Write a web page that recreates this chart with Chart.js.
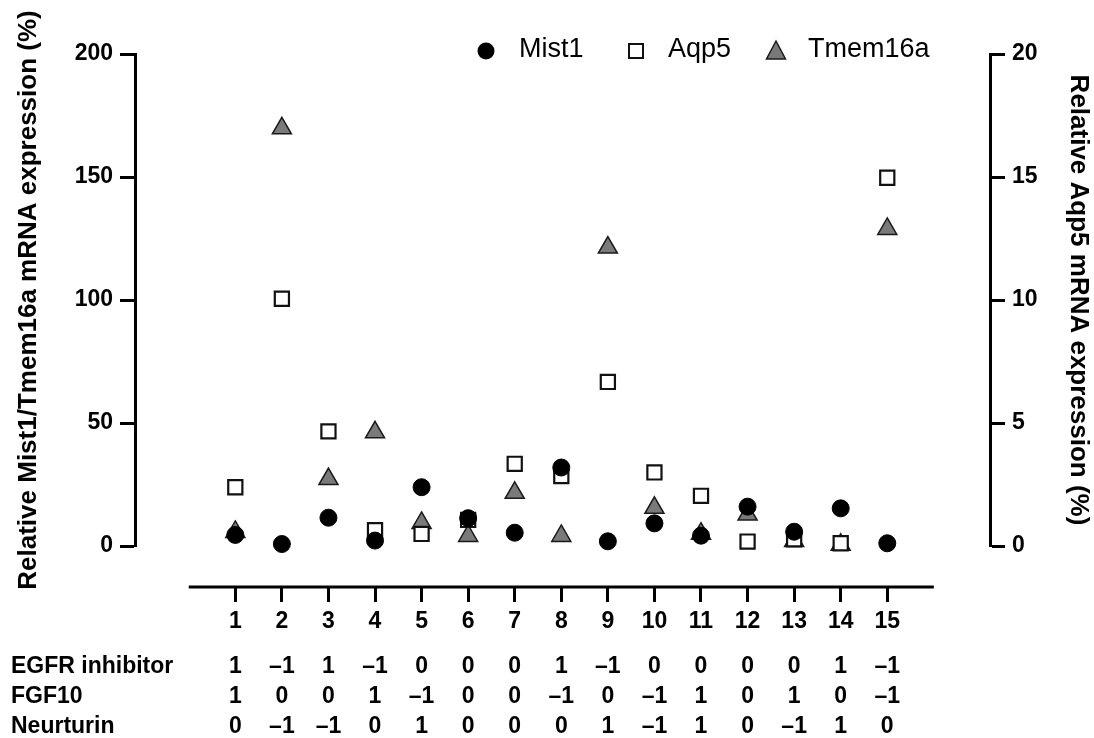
<!DOCTYPE html>
<html>
<head>
<meta charset="utf-8">
<script src="https://cdn.jsdelivr.net/npm/chart.js@4/dist/chart.umd.min.js"></script>
<style>
  html, body { margin: 0; padding: 0; background: #fff; }
  #wrap { width: 1094px; height: 738px; }
</style>
</head>
<body>
<div id="wrap"><canvas id="c" width="1094" height="738"></canvas></div>
<script>
// ---- data ----
const categories = [1, 2, 3, 4, 5, 6, 7, 8, 9, 10, 11, 12, 13, 14, 15];
const mist1   = [4.5, 0.8, 11.5, 2.2, 23.9, 11.3, 5.4, 31.9, 1.9, 9.2, 4.2, 16.0, 5.8, 15.3, 1.1];
const aqp5    = [2.39, 10.05, 4.66, 0.64, 0.49, 1.06, 3.34, 2.84, 6.67, 2.99, 2.04, 0.18, 0.27, 0.11, 14.97];
const tmem16a = [5.7, 169.8, 27.2, 46.2, 9.4, 4.1, 21.6, 4.1, 121.3, 15.5, 5.0, 12.8, 2.0, 0.5, 128.9];

const leftTicks  = [0, 50, 100, 150, 200];
const rightTicks = [0, 5, 10, 15, 20];

const rowLabels = ['EGFR inhibitor', 'FGF10', 'Neurturin'];
const egfr      = [1, -1, 1, -1, 0, 0, 0, 1, -1, 0, 0, 0, 0, 1, -1];
const fgf10     = [1, 0, 0, 1, -1, 0, 0, -1, 0, -1, 1, 0, 1, 0, -1];
const neurturin = [0, -1, -1, 0, 1, 0, 0, 0, 1, -1, 1, 0, -1, 1, 0];
const tableRows = [egfr, fgf10, neurturin];

const seriesNames = ['Mist1', 'Aqp5', 'Tmem16a'];

// ---- helpers ----
const pts = arr => categories.map((c, i) => ({ x: c, y: arr[i] }));
const fmt = v => (v < 0 ? '\u2013' + Math.abs(v) : String(v));

const FONT = "'Liberation Sans', Arial, Helvetica, sans-serif";

// x-axis line drawn offset below the plot (Prism style)
const xAxisLine = {
  id: 'xAxisLine',
  afterDraw(chart) {
    const xs = chart.scales.x;
    const ctx = chart.ctx;
    const y = chart.chartArea.bottom + 41;
    ctx.save();
    ctx.strokeStyle = '#000';
    ctx.lineWidth = 3;
    ctx.beginPath();
    ctx.moveTo(xs.getPixelForValue(categories[0] - 1), y);
    ctx.lineTo(xs.getPixelForValue(categories[categories.length - 1] + 1), y);
    ctx.stroke();
    ctx.restore();
  }
};

// treatment table under the x axis
const treatmentTable = {
  id: 'treatmentTable',
  afterDraw(chart) {
    const xs = chart.scales.x;
    const ctx = chart.ctx;
    const rowY = [667, 697, 727];
    ctx.save();
    ctx.fillStyle = '#000';
    ctx.font = 'bold 23px ' + FONT;
    ctx.textBaseline = 'middle';
    rowLabels.forEach((lab, r) => {
      ctx.textAlign = 'left';
      ctx.fillText(lab, 11, rowY[r]);
      ctx.textAlign = 'center';
      tableRows[r].forEach((v, i) => {
        ctx.fillText(fmt(v), xs.getPixelForValue(categories[i]), rowY[r]);
      });
    });
    ctx.restore();
  }
};

// legend at the top right, inside the plot area
const topLegend = {
  id: 'topLegend',
  afterDraw(chart) {
    const ctx = chart.ctx;
    const y = 50;
    const items = [
      { mx: 486, tx: 519 },
      { mx: 636, tx: 668 },
      { mx: 776, tx: 808 }
    ];
    ctx.save();
    // Mist1 circle
    ctx.fillStyle = '#000';
    ctx.beginPath();
    ctx.arc(items[0].mx, y + 1, 8.5, 0, Math.PI * 2);
    ctx.fill();
    // Aqp5 square
    ctx.fillStyle = '#fff';
    ctx.strokeStyle = '#111';
    ctx.lineWidth = 2;
    ctx.fillRect(items[1].mx - 7, y - 6, 14, 14);
    ctx.strokeRect(items[1].mx - 7, y - 6, 14, 14);
    // Tmem16a triangle
    ctx.fillStyle = '#7a7a7a';
    ctx.strokeStyle = '#1a1a1a';
    ctx.lineWidth = 1.5;
    ctx.beginPath();
    ctx.moveTo(items[2].mx, y - 9);
    ctx.lineTo(items[2].mx + 9.5, y + 9);
    ctx.lineTo(items[2].mx - 9.5, y + 9);
    ctx.closePath();
    ctx.fill();
    ctx.stroke();
    // labels
    ctx.fillStyle = '#000';
    ctx.font = '27px ' + FONT;
    ctx.textAlign = 'left';
    ctx.textBaseline = 'middle';
    seriesNames.forEach((n, i) => ctx.fillText(n, items[i].tx, y));
    ctx.restore();
  }
};

const yGrid = {
  display: true,
  drawOnChartArea: false,
  drawTicks: true,
  tickLength: 15,
  tickWidth: 3,
  tickColor: '#000'
};

new Chart(document.getElementById('c'), {
  type: 'scatter',
  data: {
    datasets: [
      {
        label: seriesNames[0],
        data: pts(mist1),
        yAxisID: 'y',
        pointStyle: 'circle',
        pointRadius: 8.5,
        backgroundColor: '#000',
        borderColor: '#000',
        borderWidth: 1,
        clip: false
      },
      {
        label: seriesNames[1],
        data: pts(aqp5),
        yAxisID: 'y2',
        pointStyle: 'rect',
        pointRadius: 10,
        backgroundColor: '#fff',
        borderColor: '#111',
        borderWidth: 2.2,
        clip: false
      },
      {
        label: seriesNames[2],
        data: pts(tmem16a),
        yAxisID: 'y',
        pointStyle: 'triangle',
        pointRadius: 11,
        backgroundColor: '#7a7a7a',
        borderColor: '#1a1a1a',
        borderWidth: 1.5,
        clip: false
      }
    ]
  },
  options: {
    responsive: false,
    animation: false,
    devicePixelRatio: 1,
    events: [],
    layout: { padding: { top: 54, left: 0, right: 0, bottom: 0 } },
    plugins: {
      legend: { display: false },
      tooltip: { enabled: false },
      title: { display: false }
    },
    scales: {
      x: {
        type: 'linear',
        position: 'bottom',
        min: -1.154,
        max: 17.206,
        afterBuildTicks: s => { s.ticks = categories.map(v => ({ value: v })); },
        afterFit: s => { s.height = 192; },
        border: { display: false },
        grid: {
          display: true,
          drawOnChartArea: false,
          drawTicks: true,
          tickLength: 56,
          tickWidth: 3,
          tickColor: '#000',
          tickBorderDash: [0, 41, 15, 200]
        },
        ticks: {
          color: '#000',
          font: { family: FONT, size: 23, weight: 'bold' },
          padding: 6,
          maxRotation: 0,
          autoSkip: false
        }
      },
      y: {
        type: 'linear',
        position: 'left',
        min: 0,
        max: 200,
        afterBuildTicks: s => { s.ticks = leftTicks.map(v => ({ value: v })); },
        afterFit: s => { s.width = 135; },
        border: { display: true, color: '#000', width: 3 },
        grid: yGrid,
        ticks: {
          color: '#000',
          font: { family: FONT, size: 23, weight: 'bold' },
          padding: 7
        },
        title: {
          display: true,
          text: 'Relative Mist1/Tmem16a mRNA expression (%)',
          color: '#000',
          font: { family: FONT, size: 26, weight: 'bold' },
          padding: { top: 13, bottom: 0 }
        }
      },
      y2: {
        type: 'linear',
        position: 'right',
        min: 0,
        max: 20,
        afterBuildTicks: s => { s.ticks = rightTicks.map(v => ({ value: v })); },
        afterFit: s => { s.width = 104; },
        border: { display: true, color: '#000', width: 3 },
        grid: yGrid,
        ticks: {
          color: '#000',
          font: { family: FONT, size: 23, weight: 'bold' },
          padding: 7
        },
        title: {
          display: true,
          text: 'Relative Aqp5 mRNA expression (%)',
          color: '#000',
          font: { family: FONT, size: 26, weight: 'bold' },
          padding: { top: 0, bottom: 0 }
        }
      }
    }
  },
  plugins: [xAxisLine, treatmentTable, topLegend]
});
</script>
</body>
</html>
